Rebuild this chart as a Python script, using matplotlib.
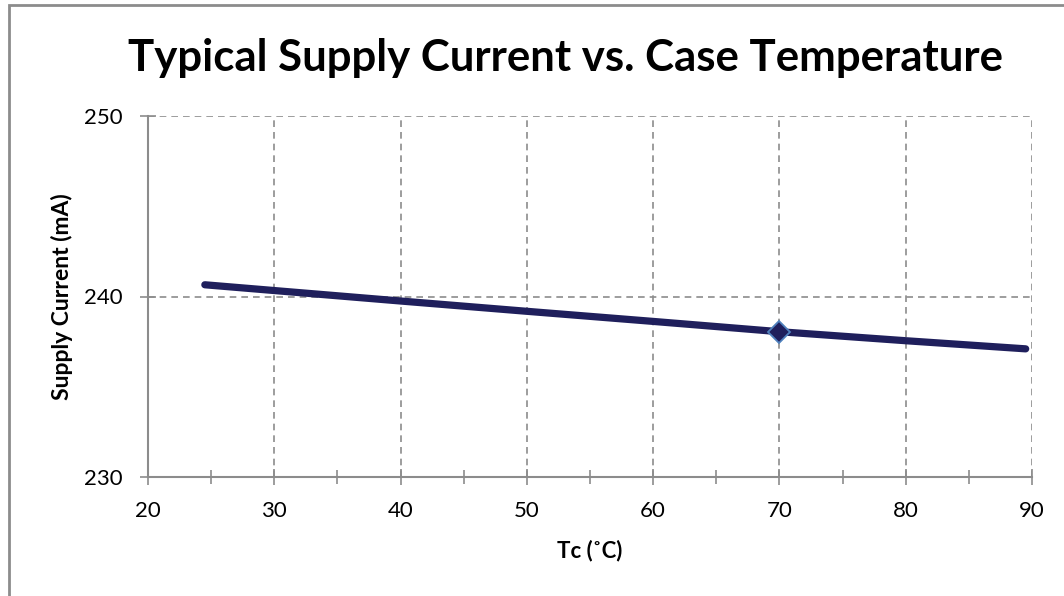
import matplotlib
matplotlib.use("Agg")
import matplotlib.pyplot as plt
from matplotlib.patches import Rectangle
from matplotlib.ticker import MultipleLocator

# Data
temps = [24.5, 30, 40, 50, 60, 70, 80, 89.5]
current = [240.65, 240.33, 239.75, 239.18, 238.62, 238.05, 237.55, 237.1]
marker_temp = [70]
marker_current = [238.05]

title = "Typical Supply Current vs. Case Temperature"
xlabel = "Tc (˚C)"
ylabel = "Supply Current (mA)"

W, H = 1064, 596
fig = plt.figure(figsize=(W / 100, H / 100), dpi=100)
plt.rcParams['font.family'] = ['Lato', 'DejaVu Sans']

ax = fig.add_axes([148 / W, 1 - 477 / H, (1032 - 148) / W, (477 - 116) / H])

ax.plot(temps, current, color='#1f1f5c', lw=5.2, solid_capstyle='round', zorder=3)
ax.plot(marker_temp, marker_current, linestyle='none', marker='D', markersize=11,
        markerfacecolor='#1f1f5c', markeredgecolor='#4f81bd', markeredgewidth=1.3, zorder=4)

ax.set_xlim(20, 90)
ax.set_ylim(230, 250)
ax.xaxis.set_major_locator(MultipleLocator(10))
ax.xaxis.set_minor_locator(MultipleLocator(5))
ax.yaxis.set_major_locator(MultipleLocator(10))

gcol = '#8c8c8c'
ax.grid(True, which='major', color=gcol, linestyle=(0, (4, 3)), lw=1.2)
for s in ['top', 'right']:
    ax.spines[s].set_visible(False)
for s in ['left', 'bottom']:
    ax.spines[s].set_color(gcol)
    ax.spines[s].set_linewidth(1.5)

ax.tick_params(axis='both', which='both', direction='inout', color=gcol, width=1.2)
ax.tick_params(axis='both', which='major', length=12, labelsize=16)
ax.tick_params(axis='x', which='major', pad=11)
ax.tick_params(axis='x', which='minor', length=10)
ax.tick_params(axis='y', which='major', pad=12)

ax.set_xlabel(xlabel, fontsize=16, fontweight='bold', labelpad=14)
ax.set_ylabel(ylabel, fontsize=16.5, fontweight='bold', labelpad=8)

fig.text(565 / W, 1 - 58 / H, title, fontsize=31.5, fontweight='bold',
         ha='center', va='center')

fig.patches.append(Rectangle((8.5 / W, -0.1), 1.2, 1 - 4.5 / H + 0.1, transform=fig.transFigure,
                             fill=False, edgecolor='#8c8c8c', lw=2))

fig.savefig("out.png", dpi=100)
